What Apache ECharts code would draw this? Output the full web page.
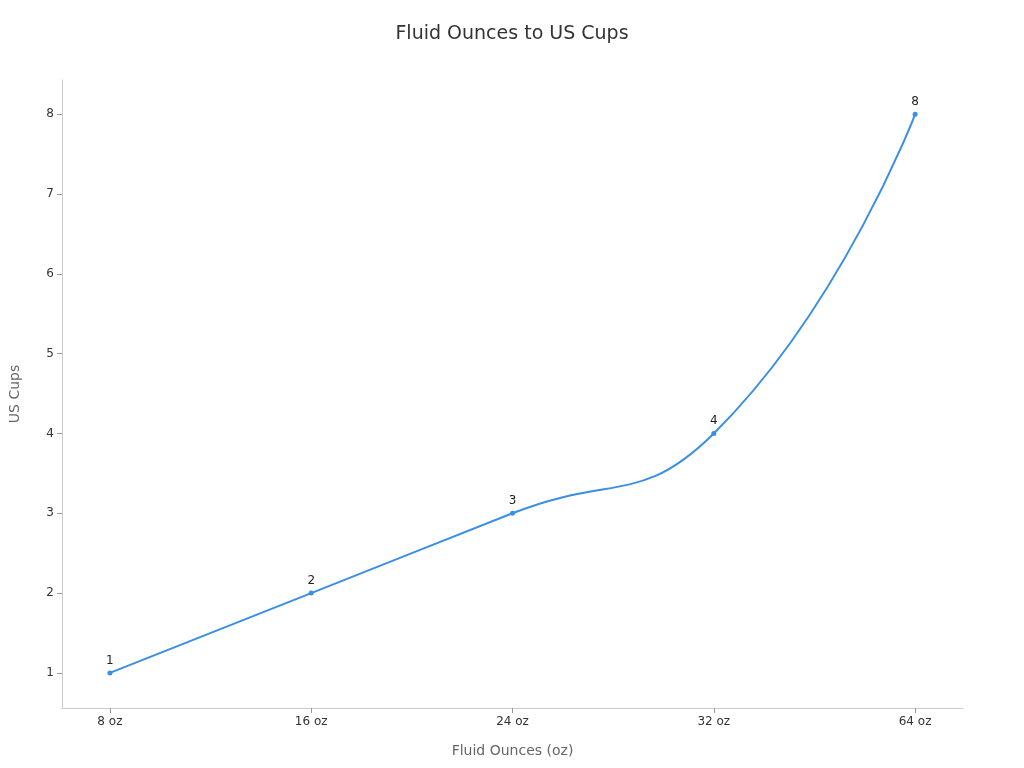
<!DOCTYPE html>
<html><head><meta charset="utf-8">
<script src="https://cdn.jsdelivr.net/npm/echarts@6/dist/echarts.min.js"></script>
<style>html,body{margin:0;padding:0}#c{width:1024px;height:768px}</style>
</head><body><div id="c"></div>
<script>
const categories = ['8 oz', '16 oz', '24 oz', '32 oz', '64 oz'];
const cups = [1, 2, 3, 4, 8];
const yTicks = [1, 2, 3, 4, 5, 6, 7, 8];

const chart = echarts.init(document.getElementById('c'));
const font = 'DejaVu Sans';
chart.setOption({
  textStyle: { fontFamily: font },
  title: { text: 'Fluid Ounces to US Cups', left: 'center', top: 20,
    textStyle: { fontSize: 19, fontWeight: 'normal', color: '#333', fontFamily: font } },
  grid: { left: 60, right: 61, top: 80, bottom: 60 },
  xAxis: {
    type: 'value', min: -0.238, max: 4.238,
    name: 'Fluid Ounces (oz)', nameLocation: 'middle', nameGap: 36,
    nameTextStyle: { color: '#666', fontSize: 14 },
    axisLine: { show: true, onZero: false, lineStyle: { color: '#ccc' } },
    axisTick: { show: true, customValues: [0, 1, 2, 3, 4], lineStyle: { color: '#999' } },
    axisLabel: { customValues: [0, 1, 2, 3, 4], color: '#333', fontSize: 12,
      formatter: v => categories[Math.round(v)] },
    splitLine: { show: false }
  },
  yAxis: {
    type: 'value', min: 0.56, max: 8.43,
    name: 'US Cups', nameLocation: 'middle', nameGap: 40,
    nameTextStyle: { color: '#666', fontSize: 14 },
    axisLine: { show: true, onZero: false, lineStyle: { color: '#ccc' } },
    axisTick: { show: true, customValues: yTicks, lineStyle: { color: '#999' } },
    axisLabel: { customValues: yTicks, color: '#333', fontSize: 12 },
    splitLine: { show: false }
  },
  series: [{
    type: 'line', smooth: true,
    data: cups.map((v, i) => [i, v]),
    symbol: 'circle', symbolSize: 5,
    lineStyle: { color: '#3a8ee6', width: 2 },
    itemStyle: { color: '#3a8ee6' },
    label: { show: true, position: 'top', distance: 4, color: '#222', fontSize: 12, formatter: p => p.value[1] }
  }]
});
</script></body></html>
